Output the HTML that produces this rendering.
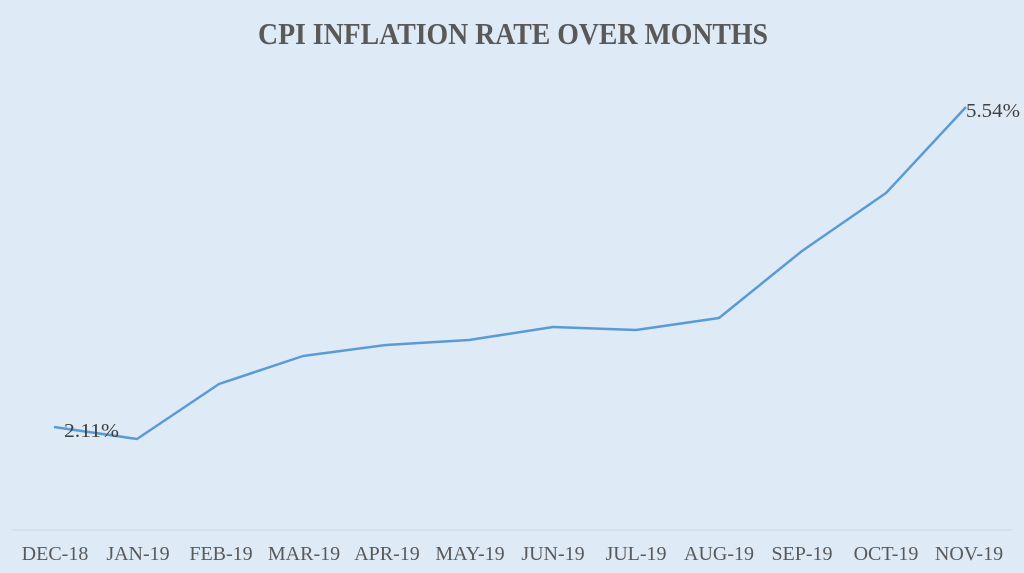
<!DOCTYPE html>
<html><head><meta charset="utf-8"><style>
html,body{margin:0;padding:0;background:#deeaf6;}
</style></head><body>
<svg width="1024" height="573" xmlns="http://www.w3.org/2000/svg" style="display:block">
<rect width="1024" height="573" fill="#deeaf6"/>
<text x="258" y="44" textLength="510" lengthAdjust="spacingAndGlyphs" font-family="Liberation Serif, serif" font-weight="bold" font-size="31" fill="#595959">CPI INFLATION RATE OVER MONTHS</text>
<line x1="12" y1="530" x2="1012" y2="530" stroke="#d3d8de" stroke-width="1"/>
<polyline fill="none" stroke="#5b9bd5" stroke-width="2.5" stroke-linejoin="round" points="54,427 137,439 219,384 303,356 386,345 469,340 553,327 636,330 719,318 802,251 886,193 966,107"/>
<g font-family="Liberation Serif, serif" font-size="20" fill="#404040">
<text x="64" y="437" textLength="55" lengthAdjust="spacingAndGlyphs">2.11%</text>
<text x="966" y="117" textLength="54" lengthAdjust="spacingAndGlyphs">5.54%</text>
</g>
<g font-family="Liberation Serif, serif" font-size="20" fill="#595959" text-anchor="middle">
<text x="55" y="560">DEC-18</text>
<text x="138" y="560">JAN-19</text>
<text x="221" y="560">FEB-19</text>
<text x="304" y="560">MAR-19</text>
<text x="387" y="560">APR-19</text>
<text x="470" y="560">MAY-19</text>
<text x="553" y="560">JUN-19</text>
<text x="636" y="560">JUL-19</text>
<text x="719" y="560">AUG-19</text>
<text x="802" y="560">SEP-19</text>
<text x="886" y="560">OCT-19</text>
<text x="969" y="560">NOV-19</text>
</g>
</svg>
</body></html>
